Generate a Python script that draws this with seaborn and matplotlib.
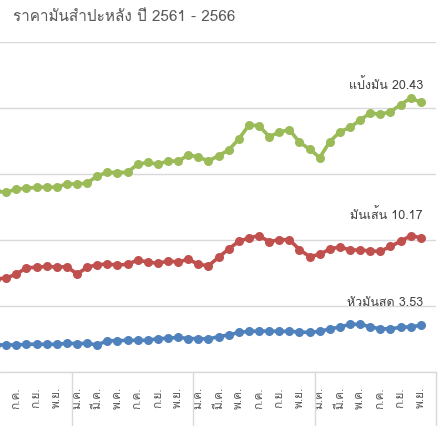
import pandas as pd
import numpy as np
import matplotlib
matplotlib.use('Agg')
import matplotlib.pyplot as plt
import matplotlib.transforms as mtransforms
from matplotlib import font_manager, ft2font
import seaborn as sns

# months counted from ม.ค. 2563 (= 0); visible part runs พ.ค. 2563 .. พ.ย. 2566
month_idx = list(range(4, 47))

starch = [13.70, 13.61, 13.86, 13.92, 13.99, 14.02, 13.99, 14.27, 14.22, 14.32, 14.85,
          15.13, 15.10, 15.15, 15.73, 15.88, 15.73, 16.00, 15.96, 16.44, 16.29, 15.98,
          16.39, 16.82, 17.65, 18.71, 18.66, 17.83, 18.16, 18.36, 17.40, 16.89, 16.24,
          17.45, 18.20, 18.53, 19.09, 19.62, 19.52, 19.72, 20.25, 20.76, 20.43]
chips = [7.05, 7.12, 7.42, 7.90, 7.93, 8.00, 7.95, 7.98, 7.42, 7.93, 8.13,
         8.18, 8.10, 8.16, 8.48, 8.33, 8.23, 8.41, 8.33, 8.54, 8.16, 8.05,
         8.69, 9.32, 9.90, 10.15, 10.33, 9.87, 10.02, 10.02, 9.27, 8.74, 8.91,
         9.32, 9.47, 9.24, 9.24, 9.17, 9.14, 9.52, 9.90, 10.33, 10.17]
fresh = [2.05, 2.05, 2.05, 2.10, 2.10, 2.10, 2.10, 2.17, 2.15, 2.17, 2.05,
         2.37, 2.37, 2.40, 2.40, 2.40, 2.53, 2.55, 2.63, 2.53, 2.53, 2.50,
         2.68, 2.80, 3.00, 3.08, 3.10, 3.10, 3.08, 3.08, 3.03, 3.00, 3.08,
         3.26, 3.41, 3.61, 3.61, 3.43, 3.26, 3.28, 3.38, 3.43, 3.53]

series_names = ['แป้งมัน', 'มันเส้น', 'หัวมันสด']
series_colors = ['#9BBB59', '#C0504D', '#4F81BD']
month_names = ['ม.ค.', 'ก.พ.', 'มี.ค.', 'เม.ย.', 'พ.ค.', 'มิ.ย.',
               'ก.ค.', 'ส.ค.', 'ก.ย.', 'ต.ค.', 'พ.ย.', 'ธ.ค.']
years = ['2563', '2564', '2565', '2566']

df = pd.DataFrame({
    'month': month_idx * 3,
    'price': starch + chips + fresh,
    'type': [series_names[0]] * len(starch) + [series_names[1]] * len(chips)
            + [series_names[2]] * len(fresh),
})

# find a font that has Thai glyphs
thai_font = None
for f in font_manager.fontManager.ttflist:
    try:
        if 0x0E01 in ft2font.FT2Font(f.fname).get_charmap():
            thai_font = f.name
            break
    except Exception:
        pass

sns.set_style('white')
plt.rcParams['font.family'] = [thai_font, 'DejaVu Sans'] if thai_font else ['DejaVu Sans']

fig = plt.figure(figsize=(4.46, 4.27), dpi=100)
ax = fig.add_axes([0, 1 - 373 / 427, 436 / 446, 330 / 427])

sns.lineplot(data=df, x='month', y='price', hue='type', palette=series_colors,
             marker='o', markersize=6.5, markeredgewidth=0, linewidth=2.6,
             legend=False, ax=ax)

ax.set_xlim(4.38, 47.5)
ax.set_ylim(0, 25)
ax.set_yticks(np.arange(0, 26, 5))
ax.yaxis.grid(True, color='#d9d9d9', linewidth=1)
ax.set_yticklabels([])
ax.tick_params(axis='y', length=0)
for s in ['top', 'left', 'right']:
    ax.spines[s].set_visible(False)
ax.spines['bottom'].set_color('#d9d9d9')
ax.spines['bottom'].set_linewidth(1)
ax.set_xlabel('')
ax.set_ylabel('')

ticks = list(range(6, 47, 2))
ax.set_xticks(ticks)
ax.set_xticklabels([month_names[t % 12] for t in ticks], rotation=90,
                   fontsize=8.5, color='#595959')
ax.tick_params(axis='x', length=0, pad=10)

# year separators and labels below the axis
trans = mtransforms.blended_transform_factory(ax.transData, ax.transAxes)
for b in [11.5, 23.5, 35.5, 47.5]:
    ax.plot([b, b], [0, -0.2], transform=trans, color='#d9d9d9', linewidth=1,
            clip_on=False)
for i, y in enumerate(years):
    ax.text(i * 12 + 5.5, -0.185, y, transform=trans, ha='center', va='top',
            fontsize=8, color='#595959', clip_on=False)

# end labels
last = month_idx[-1]
for name, vals, dy in zip(series_names, [starch, chips, fresh], [1.4, 1.8, 1.8]):
    ax.text(last + 0.2, vals[-1] + dy, f'{name} {vals[-1]:.2f}', ha='right',
            va='center', fontsize=9, color='#404040')

fig.text(13 / 446, 1 - 17 / 427, 'ราคามันสำปะหลัง ปี 2561 - 2566', ha='left',
         va='center', fontsize=11, color='#595959')

plt.savefig('out.png', dpi=100)
plt.close()
